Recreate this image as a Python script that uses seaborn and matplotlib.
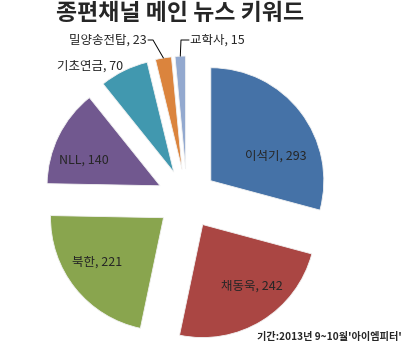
import numpy as np
import matplotlib
matplotlib.use("Agg")
import matplotlib.pyplot as plt
import seaborn as sns

sns.set_theme(style="white")
plt.rcParams['font.family'] = ['Noto Sans CJK KR', 'DejaVu Sans']

# Keyword counts
keywords = ["이석기", "채동욱", "북한", "NLL", "기초연금", "밀양송전탑", "교학사"]
counts = [293, 242, 221, 140, 70, 23, 15]
colors = ["#4572A7", "#AA4643", "#89A54E", "#71588F", "#4198AF", "#DB843D", "#93A9CF"]

W, H = 404, 349
fig = plt.figure(figsize=(W / 100, H / 100), dpi=100)
ax = fig.add_axes([0, 0, 1, 1])

# pie geometry in pixel units
cx, cy, R = 187, H - 199, 113
offset = 30  # how far each slice is pulled out

wedges, _ = ax.pie(counts, colors=colors, startangle=90, counterclock=False,
                   radius=R, center=(cx, cy), explode=[offset] * len(counts),
                   wedgeprops=dict(edgecolor="#f2f2f2", linewidth=0.6), frame=True)
ax.set_xlim(0, W)
ax.set_ylim(0, H)
ax.set_aspect("equal")
ax.axis("off")

total = sum(counts)
bounds = np.concatenate([[0], np.cumsum(counts)]) / total * 360.0
mids = (bounds[:-1] + bounds[1:]) / 2  # clockwise from top

def slice_origin(i):
    m = np.deg2rad(mids[i])
    return cx + offset * np.sin(m), cy + offset * np.cos(m)

# inside labels: radial distance (fraction of radius) and angle tweak
label_r = [0.62, 0.70, 0.71, 0.71]
label_da = [16.5, -7, 5, -7.3]
for i in range(4):
    ox, oy = slice_origin(i)
    a = np.deg2rad(mids[i] + label_da[i])
    ax.text(ox + label_r[i] * R * np.sin(a), oy + label_r[i] * R * np.cos(a),
            f"{keywords[i]}, {counts[i]}", ha="center", va="center", fontsize=9)

# outside label without a leader line
ax.text(90, H - 66, f"{keywords[4]}, {counts[4]}", ha="center", va="center", fontsize=9)

# small slices with leader lines
for i, (lx, ha, tx) in zip([5, 6], [(153, "right", 148), (181, "left", 189)]):
    ox, oy = slice_origin(i)
    m = np.deg2rad(mids[i])
    px = ox + R * np.sin(m)
    py = oy + R * np.cos(m)
    ly = H - 40
    ax.plot([px, lx, tx], [py, ly, ly], color="black", lw=0.7)
    ax.text(tx + (-1 if ha == "right" else 1), ly, f"{keywords[i]}, {counts[i]}",
            ha=ha, va="center", fontsize=9)

ax.text(180, H - 14, "종편채널 메인 뉴스 키워드", ha="center", va="center",
        fontsize=16.5, fontweight="heavy")
ax.text(402, H - 337, "기간:2013년 9~10월'아이엠피터'", ha="right", va="center",
        fontsize=7.3, fontweight="bold")

fig.savefig("out.png", dpi=100)
